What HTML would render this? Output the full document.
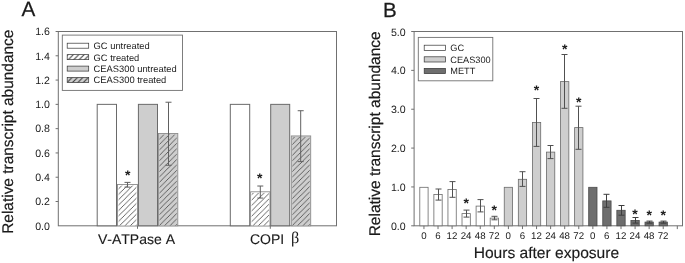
<!DOCTYPE html>
<html><head><meta charset="utf-8"><title>Figure</title>
<style>
html,body{margin:0;padding:0;background:#fff;}
body{width:685px;height:263px;overflow:hidden;}
svg{display:block;will-change:transform;}
text{font-family:"Liberation Sans",sans-serif;fill:#1a1a1a;font-kerning:none;text-rendering:geometricPrecision;}
.sym{font-family:"Liberation Serif",serif;}
</style></head><body>
<svg width="685" height="263" viewBox="0 0 685 263">
<defs>
<pattern id="hw" patternUnits="userSpaceOnUse" width="5.4" height="5.4" x="3.8" y="0"><rect width="5.4" height="5.4" fill="#fff"/><path d="M-1,1 L1,-1 M-1,6.4 L6.4,-1 M4.4,6.4 L6.4,4.4" stroke="#3a3a3a" stroke-width="1.1"/></pattern>
<pattern id="hg" patternUnits="userSpaceOnUse" width="5.4" height="5.4" x="3.8" y="0"><rect width="5.4" height="5.4" fill="#cecece"/><path d="M-1,1 L1,-1 M-1,6.4 L6.4,-1 M4.4,6.4 L6.4,4.4" stroke="#3a3a3a" stroke-width="1.1"/></pattern>
<pattern id="hw1" patternUnits="userSpaceOnUse" width="5.4" height="5.4" x="5.1" y="0"><rect width="5.4" height="5.4" fill="#fff"/><path d="M-1,1 L1,-1 M-1,6.4 L6.4,-1 M4.4,6.4 L6.4,4.4" stroke="#484848" stroke-width="0.85"/></pattern>
<pattern id="hg1" patternUnits="userSpaceOnUse" width="5.4" height="5.4" x="1.5" y="0"><rect width="5.4" height="5.4" fill="#cecece"/><path d="M-1,1 L1,-1 M-1,6.4 L6.4,-1 M4.4,6.4 L6.4,4.4" stroke="#484848" stroke-width="0.85"/></pattern>
<pattern id="hw2" patternUnits="userSpaceOnUse" width="5.4" height="5.4" x="3.5" y="0"><rect width="5.4" height="5.4" fill="#fff"/><path d="M-1,1 L1,-1 M-1,6.4 L6.4,-1 M4.4,6.4 L6.4,4.4" stroke="#484848" stroke-width="0.85"/></pattern>
<pattern id="hg2" patternUnits="userSpaceOnUse" width="5.4" height="5.4" x="4.85" y="0"><rect width="5.4" height="5.4" fill="#cecece"/><path d="M-1,1 L1,-1 M-1,6.4 L6.4,-1 M4.4,6.4 L6.4,4.4" stroke="#484848" stroke-width="0.85"/></pattern>
</defs>
<rect width="685" height="263" fill="#fff"/>

<rect x="58.3" y="31.5" width="278.2" height="194.3" fill="none" stroke="#707070" stroke-width="1.0"/>
<text x="49.90" y="229.55" font-size="10.6" text-anchor="end" >0.0</text>
<line x1="55.60" y1="201.51" x2="58.30" y2="201.51" stroke="#707070" stroke-width="1.0"/>
<text x="49.90" y="205.26" font-size="10.6" text-anchor="end" >0.2</text>
<line x1="55.60" y1="177.23" x2="58.30" y2="177.23" stroke="#707070" stroke-width="1.0"/>
<text x="49.90" y="180.98" font-size="10.6" text-anchor="end" >0.4</text>
<line x1="55.60" y1="152.94" x2="58.30" y2="152.94" stroke="#707070" stroke-width="1.0"/>
<text x="49.90" y="156.69" font-size="10.6" text-anchor="end" >0.6</text>
<line x1="55.60" y1="128.65" x2="58.30" y2="128.65" stroke="#707070" stroke-width="1.0"/>
<text x="49.90" y="132.40" font-size="10.6" text-anchor="end" >0.8</text>
<line x1="55.60" y1="104.36" x2="58.30" y2="104.36" stroke="#707070" stroke-width="1.0"/>
<text x="49.90" y="108.11" font-size="10.6" text-anchor="end" >1.0</text>
<line x1="55.60" y1="80.07" x2="58.30" y2="80.07" stroke="#707070" stroke-width="1.0"/>
<text x="49.90" y="83.82" font-size="10.6" text-anchor="end" >1.2</text>
<line x1="55.60" y1="55.79" x2="58.30" y2="55.79" stroke="#707070" stroke-width="1.0"/>
<text x="49.90" y="59.54" font-size="10.6" text-anchor="end" >1.4</text>
<line x1="55.60" y1="31.50" x2="58.30" y2="31.50" stroke="#707070" stroke-width="1.0"/>
<text x="49.90" y="35.25" font-size="10.6" text-anchor="end" >1.6</text>
<rect x="97.20" y="104.36" width="19.30" height="121.44" fill="#fff" stroke="#6a6a6a" stroke-width="1.0"/>
<rect x="117.50" y="184.51" width="20.00" height="41.29" fill="#fff" stroke="#8c8c8c" stroke-width="0.9"/>
<rect x="118.60" y="185.61" width="17.80" height="39.79" fill="url(#hw1)"/>
<line x1="127.50" y1="182.38" x2="127.50" y2="187.14" stroke="#606060" stroke-width="1.0"/>
<line x1="124.50" y1="182.38" x2="130.50" y2="182.38" stroke="#606060" stroke-width="1.0"/>
<line x1="124.50" y1="187.14" x2="130.50" y2="187.14" stroke="#606060" stroke-width="1.0"/>
<rect x="138.40" y="104.36" width="19.10" height="121.44" fill="#cecece" stroke="#6a6a6a" stroke-width="1.0"/>
<rect x="158.40" y="133.51" width="19.40" height="92.29" fill="#cecece" stroke="#8c8c8c" stroke-width="0.9"/>
<rect x="159.50" y="134.61" width="17.20" height="90.79" fill="url(#hg1)"/>
<line x1="168.50" y1="102.23" x2="168.50" y2="165.28" stroke="#606060" stroke-width="1.0"/>
<line x1="165.50" y1="102.23" x2="171.50" y2="102.23" stroke="#606060" stroke-width="1.0"/>
<line x1="165.50" y1="165.28" x2="171.50" y2="165.28" stroke="#606060" stroke-width="1.0"/>
<rect x="230.30" y="104.36" width="19.40" height="121.44" fill="#fff" stroke="#6a6a6a" stroke-width="1.0"/>
<rect x="250.60" y="191.80" width="19.40" height="34.00" fill="#fff" stroke="#8c8c8c" stroke-width="0.9"/>
<rect x="251.70" y="192.90" width="17.20" height="32.50" fill="url(#hw2)"/>
<line x1="260.30" y1="186.03" x2="260.30" y2="198.07" stroke="#606060" stroke-width="1.0"/>
<line x1="257.30" y1="186.03" x2="263.30" y2="186.03" stroke="#606060" stroke-width="1.0"/>
<line x1="257.30" y1="198.07" x2="263.30" y2="198.07" stroke="#606060" stroke-width="1.0"/>
<rect x="270.70" y="104.36" width="19.00" height="121.44" fill="#cecece" stroke="#6a6a6a" stroke-width="1.0"/>
<rect x="291.30" y="135.94" width="19.40" height="89.86" fill="#cecece" stroke="#8c8c8c" stroke-width="0.9"/>
<rect x="292.40" y="137.04" width="17.20" height="88.36" fill="url(#hg2)"/>
<line x1="300.70" y1="110.73" x2="300.70" y2="161.64" stroke="#606060" stroke-width="1.0"/>
<line x1="297.70" y1="110.73" x2="303.70" y2="110.73" stroke="#606060" stroke-width="1.0"/>
<line x1="297.70" y1="161.64" x2="303.70" y2="161.64" stroke="#606060" stroke-width="1.0"/>
<line x1="137.50" y1="225.80" x2="137.50" y2="228.80" stroke="#707070" stroke-width="1.0"/>
<line x1="270.30" y1="225.80" x2="270.30" y2="228.80" stroke="#707070" stroke-width="1.0"/>
<text x="127.65" y="179.88" font-size="14" text-anchor="middle" font-weight="bold">*</text>
<text x="259.65" y="183.18" font-size="14" text-anchor="middle" font-weight="bold">*</text>
<text x="136.50" y="243.75" font-size="14" text-anchor="middle" stroke="#1a1a1a" stroke-width="0.12">V-ATPase A</text>
<text x="250.00" y="243.70" font-size="14" text-anchor="start" stroke="#1a1a1a" stroke-width="0.12">COPI</text>
<text x="290.90" y="243.40" font-size="16.2" text-anchor="start" class="sym">β</text>
<text transform="translate(21.6,16.45)" font-size="20.7" stroke="#1a1a1a" stroke-width="0.25">A</text>
<text transform="translate(13.3,131.7) rotate(-90)" font-size="15.45" stroke="#1a1a1a" stroke-width="0.2" text-anchor="middle">Relative transcript abundance</text>
<rect x="62.30" y="35.10" width="120.20" height="55.30" fill="#fff" stroke="#707070" stroke-width="0.9"/>
<rect x="67.20" y="43.20" width="21.50" height="5.00" fill="#fff" stroke="#333" stroke-width="0.7"/>
<text x="93.60" y="49.10" font-size="9.35" text-anchor="start" >GC untreated</text>
<rect x="67.20" y="54.65" width="21.50" height="5.00" fill="url(#hw)" stroke="#333" stroke-width="0.7"/>
<text x="93.60" y="60.55" font-size="9.35" text-anchor="start" >GC treated</text>
<rect x="67.20" y="66.10" width="21.50" height="5.00" fill="#cecece" stroke="#333" stroke-width="0.7"/>
<text x="93.60" y="72.00" font-size="9.35" text-anchor="start" >CEAS300 untreated</text>
<rect x="67.20" y="77.55" width="21.50" height="5.00" fill="url(#hg)" stroke="#333" stroke-width="0.7"/>
<text x="93.60" y="83.45" font-size="9.35" text-anchor="start" >CEAS300 treated</text>
<rect x="414.1" y="31.5" width="268.4" height="194.3" fill="none" stroke="#707070" stroke-width="1.0"/>
<line x1="411.20" y1="225.80" x2="414.10" y2="225.80" stroke="#707070" stroke-width="1.0"/>
<text x="405.70" y="229.80" font-size="10.6" text-anchor="end" >0.0</text>
<line x1="411.20" y1="186.94" x2="414.10" y2="186.94" stroke="#707070" stroke-width="1.0"/>
<text x="405.70" y="190.94" font-size="10.6" text-anchor="end" >1.0</text>
<line x1="411.20" y1="148.08" x2="414.10" y2="148.08" stroke="#707070" stroke-width="1.0"/>
<text x="405.70" y="152.08" font-size="10.6" text-anchor="end" >2.0</text>
<line x1="411.20" y1="109.22" x2="414.10" y2="109.22" stroke="#707070" stroke-width="1.0"/>
<text x="405.70" y="113.22" font-size="10.6" text-anchor="end" >3.0</text>
<line x1="411.20" y1="70.36" x2="414.10" y2="70.36" stroke="#707070" stroke-width="1.0"/>
<text x="405.70" y="74.36" font-size="10.6" text-anchor="end" >4.0</text>
<line x1="411.20" y1="31.50" x2="414.10" y2="31.50" stroke="#707070" stroke-width="1.0"/>
<text x="405.70" y="35.50" font-size="10.6" text-anchor="end" >5.0</text>
<rect x="419.80" y="187.30" width="8.30" height="38.50" fill="#fff" stroke="#6a6a6a" stroke-width="0.8"/>
<line x1="423.95" y1="225.80" x2="423.95" y2="229.10" stroke="#707070" stroke-width="1.0"/>
<text x="423.85" y="239.40" font-size="9.7" text-anchor="middle" >0</text>
<rect x="433.88" y="194.40" width="8.30" height="31.40" fill="#fff" stroke="#6a6a6a" stroke-width="0.8"/>
<line x1="438.50" y1="189.00" x2="438.50" y2="200.10" stroke="#505050" stroke-width="1.0"/>
<line x1="435.50" y1="189.00" x2="441.50" y2="189.00" stroke="#505050" stroke-width="1.0"/>
<line x1="435.50" y1="200.10" x2="441.50" y2="200.10" stroke="#505050" stroke-width="1.0"/>
<line x1="438.02" y1="225.80" x2="438.02" y2="229.10" stroke="#707070" stroke-width="1.0"/>
<text x="437.92" y="239.40" font-size="9.7" text-anchor="middle" >6</text>
<rect x="447.95" y="189.50" width="8.30" height="36.30" fill="#fff" stroke="#6a6a6a" stroke-width="0.8"/>
<line x1="452.50" y1="181.60" x2="452.50" y2="197.30" stroke="#505050" stroke-width="1.0"/>
<line x1="449.50" y1="181.60" x2="455.50" y2="181.60" stroke="#505050" stroke-width="1.0"/>
<line x1="449.50" y1="197.30" x2="455.50" y2="197.30" stroke="#505050" stroke-width="1.0"/>
<line x1="452.10" y1="225.80" x2="452.10" y2="229.10" stroke="#707070" stroke-width="1.0"/>
<text x="452.00" y="239.40" font-size="9.7" text-anchor="middle" >12</text>
<rect x="462.02" y="213.60" width="8.30" height="12.20" fill="#fff" stroke="#6a6a6a" stroke-width="0.8"/>
<line x1="466.50" y1="210.10" x2="466.50" y2="217.10" stroke="#505050" stroke-width="1.0"/>
<line x1="463.50" y1="210.10" x2="469.50" y2="210.10" stroke="#505050" stroke-width="1.0"/>
<line x1="463.50" y1="217.10" x2="469.50" y2="217.10" stroke="#505050" stroke-width="1.0"/>
<line x1="466.17" y1="225.80" x2="466.17" y2="229.10" stroke="#707070" stroke-width="1.0"/>
<text x="466.07" y="239.40" font-size="9.7" text-anchor="middle" >24</text>
<rect x="476.10" y="206.10" width="8.30" height="19.70" fill="#fff" stroke="#6a6a6a" stroke-width="0.8"/>
<line x1="480.50" y1="199.60" x2="480.50" y2="211.90" stroke="#505050" stroke-width="1.0"/>
<line x1="477.50" y1="199.60" x2="483.50" y2="199.60" stroke="#505050" stroke-width="1.0"/>
<line x1="477.50" y1="211.90" x2="483.50" y2="211.90" stroke="#505050" stroke-width="1.0"/>
<line x1="480.25" y1="225.80" x2="480.25" y2="229.10" stroke="#707070" stroke-width="1.0"/>
<text x="480.15" y="239.40" font-size="9.7" text-anchor="middle" >48</text>
<rect x="490.18" y="218.10" width="8.30" height="7.70" fill="#fff" stroke="#6a6a6a" stroke-width="0.8"/>
<line x1="494.50" y1="216.30" x2="494.50" y2="219.80" stroke="#505050" stroke-width="1.0"/>
<line x1="491.50" y1="216.30" x2="497.50" y2="216.30" stroke="#505050" stroke-width="1.0"/>
<line x1="491.50" y1="219.80" x2="497.50" y2="219.80" stroke="#505050" stroke-width="1.0"/>
<line x1="494.32" y1="225.80" x2="494.32" y2="229.10" stroke="#707070" stroke-width="1.0"/>
<text x="494.22" y="239.40" font-size="9.7" text-anchor="middle" >72</text>
<rect x="504.25" y="187.30" width="8.30" height="38.50" fill="#cecece" stroke="#6a6a6a" stroke-width="0.8"/>
<line x1="508.40" y1="225.80" x2="508.40" y2="229.10" stroke="#707070" stroke-width="1.0"/>
<text x="508.30" y="239.40" font-size="9.7" text-anchor="middle" >0</text>
<rect x="518.33" y="179.30" width="8.30" height="46.50" fill="#cecece" stroke="#6a6a6a" stroke-width="0.8"/>
<line x1="522.50" y1="171.70" x2="522.50" y2="186.40" stroke="#505050" stroke-width="1.0"/>
<line x1="519.50" y1="171.70" x2="525.50" y2="171.70" stroke="#505050" stroke-width="1.0"/>
<line x1="519.50" y1="186.40" x2="525.50" y2="186.40" stroke="#505050" stroke-width="1.0"/>
<line x1="522.48" y1="225.80" x2="522.48" y2="229.10" stroke="#707070" stroke-width="1.0"/>
<text x="522.38" y="239.40" font-size="9.7" text-anchor="middle" >6</text>
<rect x="532.40" y="122.50" width="8.30" height="103.30" fill="#cecece" stroke="#6a6a6a" stroke-width="0.8"/>
<line x1="536.50" y1="98.50" x2="536.50" y2="146.40" stroke="#505050" stroke-width="1.0"/>
<line x1="533.50" y1="98.50" x2="539.50" y2="98.50" stroke="#505050" stroke-width="1.0"/>
<line x1="533.50" y1="146.40" x2="539.50" y2="146.40" stroke="#505050" stroke-width="1.0"/>
<line x1="536.55" y1="225.80" x2="536.55" y2="229.10" stroke="#707070" stroke-width="1.0"/>
<text x="536.45" y="239.40" font-size="9.7" text-anchor="middle" >12</text>
<rect x="546.48" y="152.10" width="8.30" height="73.70" fill="#cecece" stroke="#6a6a6a" stroke-width="0.8"/>
<line x1="550.50" y1="145.50" x2="550.50" y2="158.60" stroke="#505050" stroke-width="1.0"/>
<line x1="547.50" y1="145.50" x2="553.50" y2="145.50" stroke="#505050" stroke-width="1.0"/>
<line x1="547.50" y1="158.60" x2="553.50" y2="158.60" stroke="#505050" stroke-width="1.0"/>
<line x1="550.62" y1="225.80" x2="550.62" y2="229.10" stroke="#707070" stroke-width="1.0"/>
<text x="550.52" y="239.40" font-size="9.7" text-anchor="middle" >24</text>
<rect x="560.55" y="81.60" width="8.30" height="144.20" fill="#cecece" stroke="#6a6a6a" stroke-width="0.8"/>
<line x1="564.50" y1="54.50" x2="564.50" y2="108.30" stroke="#505050" stroke-width="1.0"/>
<line x1="561.50" y1="54.50" x2="567.50" y2="54.50" stroke="#505050" stroke-width="1.0"/>
<line x1="561.50" y1="108.30" x2="567.50" y2="108.30" stroke="#505050" stroke-width="1.0"/>
<line x1="564.70" y1="225.80" x2="564.70" y2="229.10" stroke="#707070" stroke-width="1.0"/>
<text x="564.60" y="239.40" font-size="9.7" text-anchor="middle" >48</text>
<rect x="574.62" y="127.60" width="8.30" height="98.20" fill="#cecece" stroke="#6a6a6a" stroke-width="0.8"/>
<line x1="578.50" y1="106.20" x2="578.50" y2="149.30" stroke="#505050" stroke-width="1.0"/>
<line x1="575.50" y1="106.20" x2="581.50" y2="106.20" stroke="#505050" stroke-width="1.0"/>
<line x1="575.50" y1="149.30" x2="581.50" y2="149.30" stroke="#505050" stroke-width="1.0"/>
<line x1="578.77" y1="225.80" x2="578.77" y2="229.10" stroke="#707070" stroke-width="1.0"/>
<text x="578.67" y="239.40" font-size="9.7" text-anchor="middle" >72</text>
<rect x="588.70" y="187.30" width="8.30" height="38.50" fill="#6e6e6e" stroke="#4a4a4a" stroke-width="0.8"/>
<line x1="592.85" y1="225.80" x2="592.85" y2="229.10" stroke="#707070" stroke-width="1.0"/>
<text x="592.75" y="239.40" font-size="9.7" text-anchor="middle" >0</text>
<rect x="602.77" y="200.90" width="8.30" height="24.90" fill="#6e6e6e" stroke="#4a4a4a" stroke-width="0.8"/>
<line x1="606.50" y1="194.30" x2="606.50" y2="207.30" stroke="#3e3e3e" stroke-width="1.0"/>
<line x1="603.50" y1="194.30" x2="609.50" y2="194.30" stroke="#3e3e3e" stroke-width="1.0"/>
<line x1="603.50" y1="207.30" x2="609.50" y2="207.30" stroke="#3e3e3e" stroke-width="1.0"/>
<line x1="606.92" y1="225.80" x2="606.92" y2="229.10" stroke="#707070" stroke-width="1.0"/>
<text x="606.82" y="239.40" font-size="9.7" text-anchor="middle" >6</text>
<rect x="616.85" y="210.30" width="8.30" height="15.50" fill="#6e6e6e" stroke="#4a4a4a" stroke-width="0.8"/>
<line x1="621.50" y1="205.50" x2="621.50" y2="215.20" stroke="#3e3e3e" stroke-width="1.0"/>
<line x1="618.50" y1="205.50" x2="624.50" y2="205.50" stroke="#3e3e3e" stroke-width="1.0"/>
<line x1="618.50" y1="215.20" x2="624.50" y2="215.20" stroke="#3e3e3e" stroke-width="1.0"/>
<line x1="621.00" y1="225.80" x2="621.00" y2="229.10" stroke="#707070" stroke-width="1.0"/>
<text x="620.90" y="239.40" font-size="9.7" text-anchor="middle" >12</text>
<rect x="630.93" y="220.40" width="8.30" height="5.40" fill="#6e6e6e" stroke="#4a4a4a" stroke-width="0.8"/>
<line x1="635.50" y1="217.50" x2="635.50" y2="223.10" stroke="#3e3e3e" stroke-width="1.0"/>
<line x1="632.50" y1="217.50" x2="638.50" y2="217.50" stroke="#3e3e3e" stroke-width="1.0"/>
<line x1="632.50" y1="223.10" x2="638.50" y2="223.10" stroke="#3e3e3e" stroke-width="1.0"/>
<line x1="635.08" y1="225.80" x2="635.08" y2="229.10" stroke="#707070" stroke-width="1.0"/>
<text x="634.98" y="239.40" font-size="9.7" text-anchor="middle" >24</text>
<rect x="645.00" y="222.10" width="8.30" height="3.70" fill="#6e6e6e" stroke="#4a4a4a" stroke-width="0.8"/>
<line x1="649.50" y1="221.10" x2="649.50" y2="223.20" stroke="#3e3e3e" stroke-width="1.0"/>
<line x1="646.50" y1="221.10" x2="652.50" y2="221.10" stroke="#3e3e3e" stroke-width="1.0"/>
<line x1="646.50" y1="223.20" x2="652.50" y2="223.20" stroke="#3e3e3e" stroke-width="1.0"/>
<line x1="649.15" y1="225.80" x2="649.15" y2="229.10" stroke="#707070" stroke-width="1.0"/>
<text x="649.05" y="239.40" font-size="9.7" text-anchor="middle" >48</text>
<rect x="659.07" y="222.10" width="8.30" height="3.70" fill="#6e6e6e" stroke="#4a4a4a" stroke-width="0.8"/>
<line x1="663.50" y1="221.10" x2="663.50" y2="223.20" stroke="#3e3e3e" stroke-width="1.0"/>
<line x1="660.50" y1="221.10" x2="666.50" y2="221.10" stroke="#3e3e3e" stroke-width="1.0"/>
<line x1="660.50" y1="223.20" x2="666.50" y2="223.20" stroke="#3e3e3e" stroke-width="1.0"/>
<line x1="663.22" y1="225.80" x2="663.22" y2="229.10" stroke="#707070" stroke-width="1.0"/>
<text x="663.12" y="239.40" font-size="9.7" text-anchor="middle" >72</text>
<line x1="677.30" y1="225.80" x2="677.30" y2="229.10" stroke="#707070" stroke-width="1.0"/>
<text x="466.17" y="208.43" font-size="14" text-anchor="middle" font-weight="bold">*</text>
<text x="494.32" y="214.53" font-size="14" text-anchor="middle" font-weight="bold">*</text>
<text x="536.55" y="94.73" font-size="14" text-anchor="middle" font-weight="bold">*</text>
<text x="564.70" y="54.33" font-size="14" text-anchor="middle" font-weight="bold">*</text>
<text x="578.77" y="107.03" font-size="14" text-anchor="middle" font-weight="bold">*</text>
<text x="635.08" y="219.13" font-size="14" text-anchor="middle" font-weight="bold">*</text>
<text x="649.15" y="219.53" font-size="14" text-anchor="middle" font-weight="bold">*</text>
<text x="663.22" y="219.53" font-size="14" text-anchor="middle" font-weight="bold">*</text>
<text x="546.40" y="258.15" font-size="15.58" text-anchor="middle" stroke="#1a1a1a" stroke-width="0.15">Hours after exposure</text>
<text transform="translate(382.9,16.5)" font-size="20.5" stroke="#1a1a1a" stroke-width="0.25">B</text>
<text transform="translate(380.1,133.8) rotate(-90)" font-size="15.5" stroke="#1a1a1a" stroke-width="0.2" text-anchor="middle">Relative transcript abundance</text>
<rect x="418.30" y="37.40" width="74.50" height="43.40" fill="#fff" stroke="#707070" stroke-width="0.9"/>
<rect x="424.20" y="45.20" width="21.20" height="5.20" fill="#fff" stroke="#333" stroke-width="0.7"/>
<text x="450.30" y="51.10" font-size="9.2" text-anchor="start" >GC</text>
<rect x="424.20" y="56.80" width="21.20" height="5.20" fill="#cecece" stroke="#333" stroke-width="0.7"/>
<text x="450.30" y="62.70" font-size="9.2" text-anchor="start" >CEAS300</text>
<rect x="424.20" y="68.40" width="21.20" height="5.20" fill="#6e6e6e" stroke="#333" stroke-width="0.7"/>
<text x="450.30" y="74.30" font-size="9.2" text-anchor="start" >METT</text>
</svg></body></html>
